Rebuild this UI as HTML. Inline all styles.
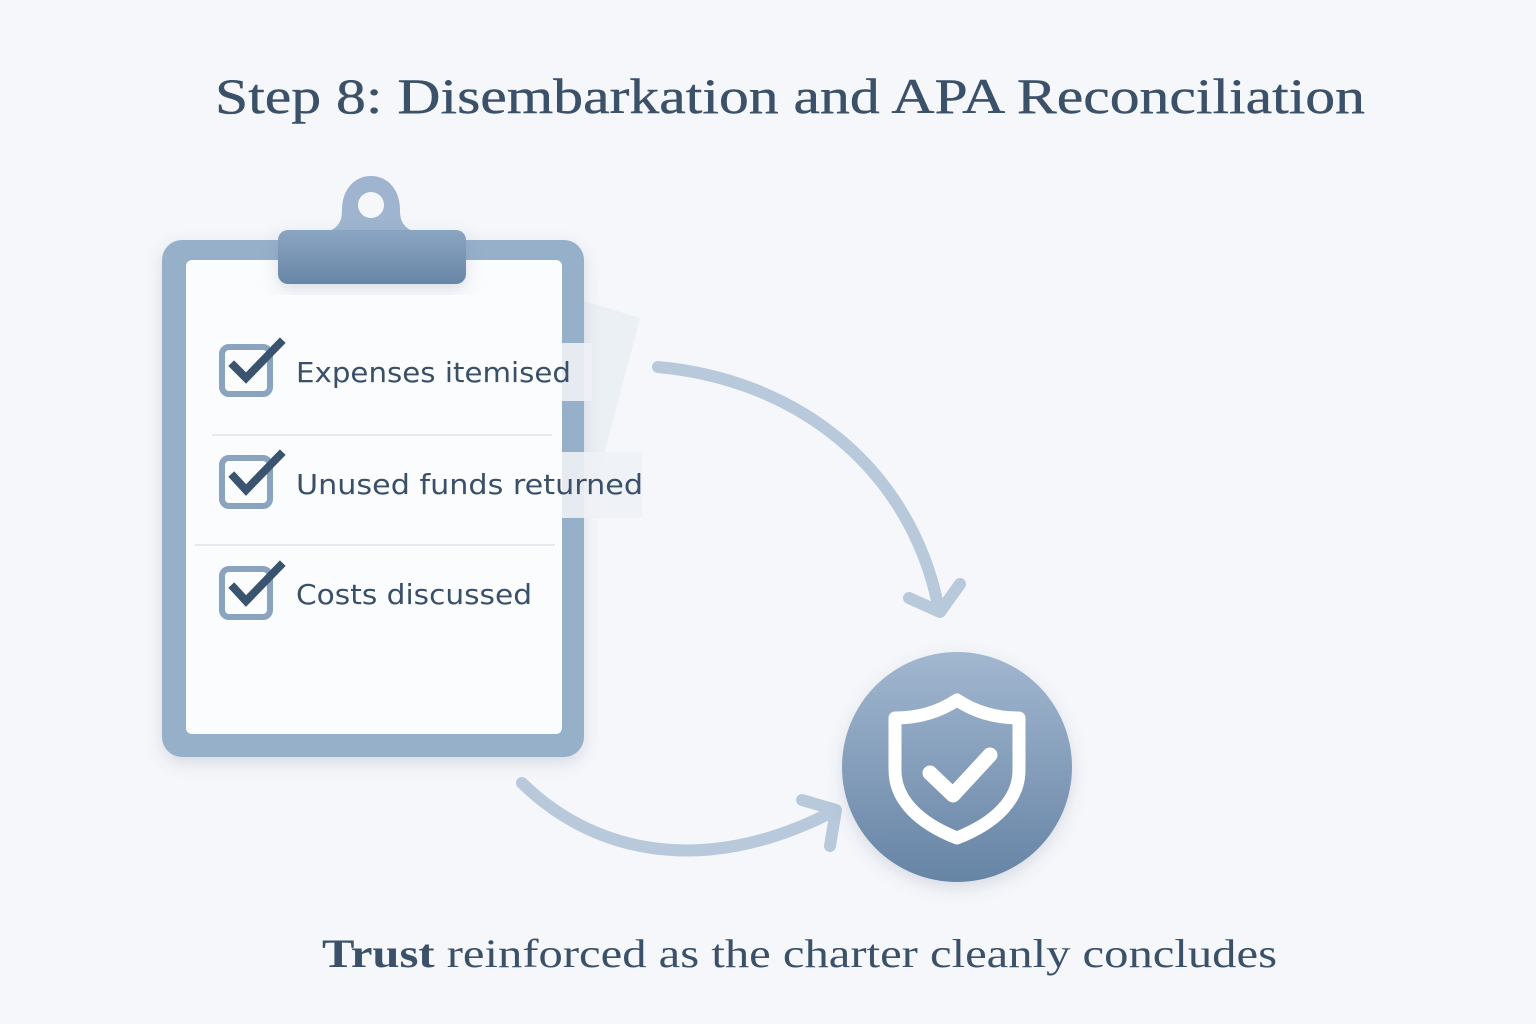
<!DOCTYPE html>
<html><head><meta charset="utf-8"><style>
html,body{margin:0;padding:0;background:#f6f7fa;}
svg{display:block}
</style></head><body>
<svg width="1536" height="1024" viewBox="0 0 1536 1024" xmlns="http://www.w3.org/2000/svg">
<defs>
<linearGradient id="cg" x1="0" y1="0" x2="0" y2="1"><stop offset="0" stop-color="#a2b7d0"/><stop offset="1" stop-color="#6684a5"/></linearGradient>
<linearGradient id="clip" x1="0" y1="0" x2="0" y2="1"><stop offset="0" stop-color="#8aa5c2"/><stop offset="1" stop-color="#6886a6"/></linearGradient>
<filter id="sh" x="-20%" y="-20%" width="140%" height="140%"><feDropShadow dx="0" dy="6" stdDeviation="8" flood-color="#4a6080" flood-opacity="0.18"/></filter>
</defs>
<rect width="1536" height="1024" fill="#f6f7fa"/>
<text x="790" y="113" text-anchor="middle" font-family="Liberation Serif, serif" font-size="50" fill="#3b5169" stroke="#3b5169" stroke-width="0.4" textLength="1150" lengthAdjust="spacingAndGlyphs">Step 8: Disembarkation and APA Reconciliation</text>

<!-- back sheet -->
<polygon points="580,300 640,318 600,470 570,470" fill="#e9edf3" opacity="0.8"/>
<!-- clipboard -->
<rect x="162" y="240" width="422" height="517" rx="20" fill="#97b0ca" filter="url(#sh)"/>
<rect x="186" y="260" width="376" height="474" rx="6" fill="#fbfcfd"/>
<line x1="212" y1="435" x2="552" y2="435" stroke="#e6eaf0" stroke-width="2"/>
<line x1="195" y1="545" x2="555" y2="545" stroke="#e6eaf0" stroke-width="2"/>
<rect x="562" y="343" width="30" height="58" fill="#eef1f5" opacity="0.9"/>
<rect x="562" y="452" width="80" height="66" fill="#eef1f5" opacity="0.9"/>
<!-- clip -->
<path d="M320,234 C338,230 342,222 342,210 C342,190 354,176 371,176 C388,176 400,190 400,210 C400,222 404,230 422,234 Z" fill="#9fb5cf"/>
<circle cx="371" cy="205" r="13" fill="#f6f7fa"/>
<rect x="278" y="230" width="188" height="54" rx="10" fill="url(#clip)" filter="url(#sh)"/>

<!-- checkboxes -->
<g fill="none" stroke-linecap="square">
<rect x="222" y="347" width="48" height="47" rx="7" stroke="#8aa3bf" stroke-width="6"/>
<path d="M234,366 L246,378 L280,343" stroke="#3a536e" stroke-width="8"/>
<rect x="222" y="458" width="48" height="48" rx="7" stroke="#8aa3bf" stroke-width="6"/>
<path d="M234,477 L246,490 L280,455" stroke="#3a536e" stroke-width="8"/>
<rect x="222" y="569" width="48" height="48" rx="7" stroke="#8aa3bf" stroke-width="6"/>
<path d="M234,588 L246,601 L280,566" stroke="#3a536e" stroke-width="8"/>
</g>
<g font-family="DejaVu Sans, Liberation Sans, sans-serif" font-size="28" fill="#3a5068">
<text x="296" y="382" textLength="275" lengthAdjust="spacingAndGlyphs">Expenses itemised</text>
<text x="296" y="494" textLength="347" lengthAdjust="spacingAndGlyphs">Unused funds returned</text>
<text x="296" y="604" textLength="236" lengthAdjust="spacingAndGlyphs">Costs discussed</text>
</g>

<!-- arrows -->
<g fill="none" stroke="#b9c9dc" stroke-width="12" stroke-linecap="round" stroke-linejoin="round">
<path d="M658,367 C800,380 910,470 938,605"/>
<path d="M909,598 L940,612 L960,584"/>
<path d="M522,783 C590,850 700,880 832,812"/>
<path d="M802,800 L836,810 L830,846"/>
</g>

<!-- shield circle -->
<circle cx="957" cy="767" r="115" fill="url(#cg)" filter="url(#sh)"/>
<path d="M957,700 C975,712 995,718 1019,718 L1019,770 C1019,800 995,823 957,838 C919,823 895,800 895,770 L895,718 C919,718 939,712 957,700 Z" fill="none" stroke="#ffffff" stroke-width="13" stroke-linejoin="round"/>
<path d="M930,773 L953,795 L990,755" fill="none" stroke="#ffffff" stroke-width="15" stroke-linecap="round" stroke-linejoin="round"/>

<text x="322" y="967" font-family="Liberation Serif, serif" font-size="40" fill="#3b5169" textLength="955" lengthAdjust="spacingAndGlyphs"><tspan font-weight="bold">Trust</tspan> reinforced as the charter cleanly concludes</text>
</svg>
</body></html>
